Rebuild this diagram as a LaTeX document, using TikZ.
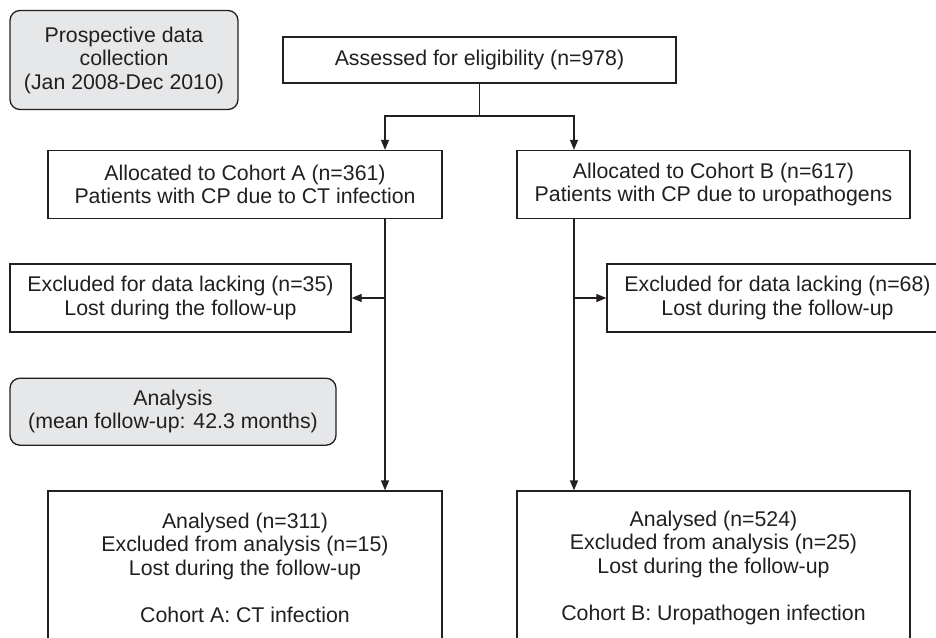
\documentclass[tikz,border=0pt]{standalone}
\usepackage{fontspec}
\setmainfont{Liberation Sans}
\usepackage{xcolor}
\usetikzlibrary{arrows.meta}
\definecolor{lineink}{HTML}{231F20}
\definecolor{notefill}{HTML}{E6E7E8}
\tikzset{
  flowbox/.style={draw=lineink, line width=1.3pt, fill=white, inner sep=0pt, align=center, text=lineink},
  notebox/.style={flowbox, fill=notefill, rounded corners=10pt},
  flowarrow/.style={draw=lineink, line width=1.3pt, -{Triangle[length=10pt,width=8pt]}},
}
\begin{document}
\begin{tikzpicture}[x=1pt,y=1pt,yscale=-1,font=\fontsize{21.3}{23.5}\selectfont]
        %set diagram area to 936 x 637
        \path[use as bounding box] (0,0) rectangle (936,637);
        \clip (0,0) rectangle (936,637);

        %Shape: Rounded boxes (notes)
        \node [notebox, minimum width=228pt, minimum height=99pt] (prosp) at (124,60) {Prospective data\\collection\\(Jan 2008-Dec 2010)};
        \node [notebox, minimum width=326pt, minimum height=67pt] (analysis) at (173,411.7) {Analysis\\(mean follow-up: 42.3 months)};

        %Shape: Rectangles
        \node [flowbox, minimum width=393pt, minimum height=46pt] (assess) at (479.5,60) {Assessed for eligibility (n=978)};
        \node [flowbox, minimum width=394pt, minimum height=68pt] (cohA) at (245,184.5) {Allocated to Cohort A (n=361)\\Patients with CP due to CT infection};
        \node [flowbox, minimum width=393pt, minimum height=68pt] (cohB) at (713.5,184.5) {Allocated to Cohort B (n=617)\\Patients with CP due to uropathogens};
        \node [flowbox, minimum width=341pt, minimum height=68pt] (exclA) at (180.5,298) {Excluded for data lacking (n=35)\\Lost during the follow-up};
        \node [flowbox, minimum width=341pt, minimum height=68pt] (exclB) at (777.5,298) {Excluded for data lacking (n=68)\\Lost during the follow-up};
        \node [flowbox, minimum width=394pt, minimum height=153pt] (anaA) at (245,567.5) {Analysed (n=311)\\Excluded from analysis (n=15)\\Lost during the follow-up\\[23.5pt]Cohort A: CT infection};
        \node [flowbox, minimum width=393pt, minimum height=153pt] (anaB) at (713.5,567.5) {Analysed (n=524)\\Excluded from analysis (n=25)\\Lost during the follow-up\\[23.5pt]Cohort B: Uropathogen infection};

        %Straight Lines
        \coordinate (forkA) at (385,116);
        \coordinate (forkB) at (574,116);
        \draw [flowarrow] (assess.south) |- (forkA) -- (forkA |- cohA.north);
        \draw [flowarrow] (assess.south) |- (forkB) -- (forkB |- cohB.north);
        \draw [flowarrow] (forkA |- cohA.south) -- (forkA |- anaA.north);
        \draw [flowarrow] (forkB |- cohB.south) -- (forkB |- anaB.north);
        \draw [flowarrow] (forkA |- exclA.east) -- (exclA.east);
        \draw [flowarrow] (forkB |- exclB.west) -- (exclB.west);

\end{tikzpicture}
\end{document}
